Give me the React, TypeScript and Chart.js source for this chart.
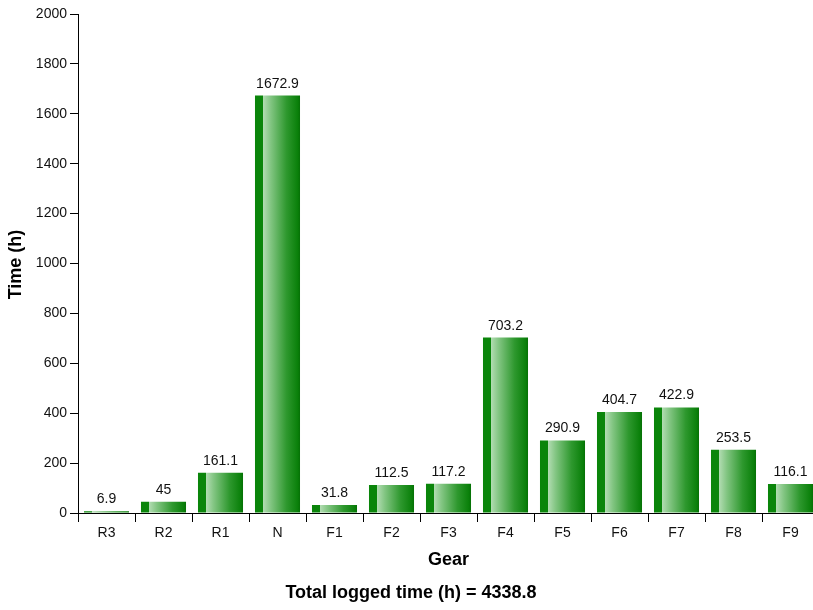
import { useEffect, useRef } from 'react';
import { Chart, registerables } from 'chart.js';

Chart.register(...registerables);

const gears = ['R3', 'R2', 'R1', 'N', 'F1', 'F2', 'F3', 'F4', 'F5', 'F6', 'F7', 'F8', 'F9'];
const hours = [6.9, 45, 161.1, 1672.9, 31.8, 112.5, 117.2, 703.2, 290.9, 404.7, 422.9, 253.5, 116.1];
const yMin = 0;
const yMax = 2000;
const yStep = 200;
const yTitle = 'Time (h)';
const xTitle = 'Gear';
const totalLabel = 'Total logged time (h) = 4338.8';

const FONT = '"Liberation Sans", Arial, Helvetica, sans-serif';
const BAR_PCT = 0.79;

const textPlugin = {
  id: 'textPlugin',
  afterDatasetsDraw(chart: any) {
    const ctx = chart.ctx;
    const meta = chart.getDatasetMeta(0);
    ctx.save();
    ctx.fillStyle = '#111';
    ctx.font = `14px ${FONT}`;
    ctx.textAlign = 'center';
    ctx.textBaseline = 'alphabetic';
    meta.data.forEach((el: any, i: number) => {
      ctx.fillText(String(hours[i]), el.x, el.y - 8);
    });
    ctx.restore();
  },
  afterDraw(chart: any) {
    const ctx = chart.ctx;
    const area = chart.chartArea;
    ctx.save();
    ctx.fillStyle = '#000';
    ctx.font = `bold 18px ${FONT}`;
    ctx.textAlign = 'center';
    ctx.textBaseline = 'middle';
    ctx.fillText(xTitle, (area.left + area.right) / 2, 560);
    ctx.fillText(totalLabel, 411, 593);
    ctx.translate(16.5, (area.top + area.bottom) / 2 + 1);
    ctx.rotate(-Math.PI / 2);
    ctx.fillText(yTitle, 0, 0);
    ctx.restore();
  },
};

function barFill(c: any) {
  const ch = c.chart;
  const xs = ch.scales && ch.scales.x;
  if (!xs || c.type !== 'data') return '#0a850a';
  const center = xs.getPixelForValue(c.dataIndex);
  const w = (xs.width / gears.length) * BAR_PCT;
  if (!Number.isFinite(center) || !Number.isFinite(w) || w <= 0) return '#0a850a';
  const g = ch.ctx.createLinearGradient(center - w / 2, 0, center + w / 2, 0);
  g.addColorStop(0, '#0a850a');
  g.addColorStop(0.17, '#0a850a');
  g.addColorStop(0.18, '#b2dcb2');
  g.addColorStop(0.35, '#82c582');
  g.addColorStop(0.7, '#2e982e');
  g.addColorStop(0.95, '#0a800a');
  g.addColorStop(1, '#067006');
  return g;
}

export default function App() {
  const ref = useRef<HTMLCanvasElement | null>(null);

  useEffect(() => {
    if (!ref.current) return;
    const chart = new Chart(ref.current, {
      type: 'bar',
      data: {
        labels: gears,
        datasets: [
          {
            data: hours,
            barPercentage: BAR_PCT,
            categoryPercentage: 1,
            borderWidth: 0,
            backgroundColor: barFill,
          },
        ],
      },
      options: {
        responsive: false,
        animation: false,
        devicePixelRatio: 1,
        layout: { padding: { top: 14, right: 11, left: 0, bottom: 0 } },
        plugins: {
          legend: { display: false },
          tooltip: { enabled: false },
          title: { display: false },
        },
        scales: {
          x: {
            offset: true,
            grid: {
              display: true,
              offset: true,
              drawOnChartArea: false,
              drawTicks: true,
              tickLength: 9,
              color: '#000',
              tickColor: '#000',
            },
            border: { display: true, color: '#000', width: 1 },
            ticks: {
              color: '#111',
              font: { family: FONT, size: 14 },
              padding: 3,
              maxRotation: 0,
              autoSkip: false,
            },
            afterFit: (s: any) => {
              s.height = 97;
            },
          },
          y: {
            min: yMin,
            max: yMax,
            grid: {
              display: true,
              drawOnChartArea: false,
              drawTicks: true,
              tickLength: 8,
              color: '#000',
              tickColor: '#000',
            },
            border: { display: true, color: '#000', width: 1 },
            ticks: {
              stepSize: yStep,
              color: '#111',
              font: { family: FONT, size: 14 },
              padding: 3,
              callback: (v: any) => String(v),
            },
            afterFit: (s: any) => {
              s.width = 78;
            },
          },
        },
      },
      plugins: [textPlugin],
    } as any);
    return () => chart.destroy();
  }, []);

  return (
    <div
      style={{
        position: 'fixed',
        left: 0,
        top: 0,
        width: 813,
        height: 610,
        overflow: 'hidden',
        background: '#fff',
      }}
    >
      <canvas ref={ref} width={830} height={610} style={{ display: 'block', width: 830, height: 610 }} />
    </div>
  );
}
